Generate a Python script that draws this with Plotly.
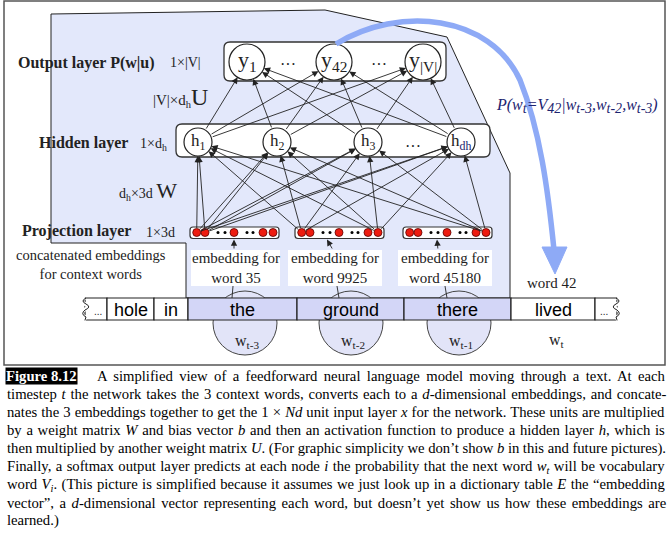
import re

import plotly.graph_objects as go

# ---- content -----------------------------------------------------------------
out_labels = ["y<sub>1</sub>", "y<sub>42</sub>", "y<sub>|V|</sub>"]
hid_labels = ["h<sub>1</sub>", "h<sub>2</sub>", "h<sub>3</sub>", "h<sub><span style='fill:#1c2470'>dh</span></sub>"]
emb_labels = ["embedding for<br>word 35", "embedding for<br>word 9925", "embedding for<br>word 45180"]
words = ["...", "hole", "in", "the", "ground", "there", "lived", "..."]
context_mask = [False, False, False, True, True, True, False, False]
ctx_labels = ["w<sub>t-3</sub>", "w<sub>t-2</sub>", "w<sub>t-1</sub>"]
proj_edges = [(0, 0), (0, 1), (1, 0), (1, 4), (2, 4)]  # (box, red dot) feeding every hidden unit

caption_lines = [
	"A simplified view of a feedforward neural language model moving through a text. At each",
	"timestep <i>t</i> the network takes the 3 context words, converts each to a <i>d</i>-dimensional embeddings, and concate-",
	"nates the 3 embeddings together to get the 1 × <i>Nd</i> unit input layer <i>x</i> for the network. These units are multiplied",
	"by a weight matrix <i>W</i> and bias vector <i>b</i> and then an activation function to produce a hidden layer <i>h</i>, which is",
	"then multiplied by another weight matrix <i>U</i>. (For graphic simplicity we don’t show <i>b</i> in this and future pictures).",
	"Finally, a softmax output layer predicts at each node <i>i</i> the probability that the next word <i>w<sub>t</sub></i> will be vocabulary",
	"word <i>V<sub>i</sub></i>. (This picture is simplified because it assumes we just look up in a dictionary table <i>E</i> the “embedding",
	"vector”, a <i>d</i>-dimensional vector representing each word, but doesn’t yet show us how these embeddings are",
	"learned.)",
]

# ---- layout geometry (pixel space of the page) --------------------------------
out_x, out_y, out_r = [247, 334, 423], 62, 18
hid_x, hid_y, hid_r = [198, 277, 368, 461], 142, 14
proj_left, proj_w, proj_y = [190, 295, 403], 89, 232.5
red_off = [6.7, 15, 44, 73, 83]
black_off = [28, 35, 57, 63]
emb_box = [(191, 280), (288, 382), (398, 492)]
emb_arrow = [(234, 234), (333, 327), (438, 437)]
emb_link = [(232, 233), (339, 337), (447, 445)]
cell_edges = [85, 107, 154, 188, 297, 404, 511, 595, 617]
row_top, row_bot = 298, 320
ctx_x, ctx_y, ctx_r = [245, 351, 459], 323, 32

SERIF = "Liberation Serif"
SANS = "Liberation Sans"
INK = "#222222"
PANEL = "#e3e8fb"
CELL = "#d3d6f7"
CIRC = "#e2e4f8"
BLUE = "#8eaaf6"
NAVY = "#1c2470"

TIMES = {' ': 250, '(': 333, ')': 333, ',': 250, '-': 333, '.': 250, '|': 200, '×': 564,
	'’': 333, '“': 444, '”': 444,
	'A': 722, 'B': 667, 'C': 667, 'D': 722, 'E': 611, 'F': 556, 'G': 722, 'H': 722, 'I': 333,
	'J': 389, 'K': 722, 'L': 611, 'M': 889, 'N': 722, 'O': 722, 'P': 556, 'Q': 722, 'R': 667,
	'S': 556, 'T': 611, 'U': 722, 'V': 722, 'W': 944, 'X': 722, 'Y': 722, 'Z': 611,
	'a': 444, 'b': 500, 'c': 444, 'd': 500, 'e': 444, 'f': 333, 'g': 500, 'h': 500, 'i': 278,
	'j': 278, 'k': 500, 'l': 278, 'm': 778, 'n': 500, 'o': 500, 'p': 500, 'q': 500, 'r': 333,
	's': 389, 't': 278, 'u': 500, 'v': 500, 'w': 722, 'x': 500, 'y': 500, 'z': 444}


def text_width(s, fs):
	total = 0
	for part in re.split(r'(<sub>.*?</sub>)', s):
		scale = 0.7 if part.startswith('<sub>') else 1
		plain = re.sub(r'<[^>]+>', '', part)
		total += sum(TIMES.get(c, 500) for c in plain) * scale
	return total * fs / 1000


def rrect(x0, y0, x1, y1, r):
	return (f"M{x0+r},{y0} L{x1-r},{y0} Q{x1},{y0} {x1},{y0+r} L{x1},{y1-r} Q{x1},{y1} {x1-r},{y1} "
		f"L{x0+r},{y1} Q{x0},{y1} {x0},{y1-r} L{x0},{y0+r} Q{x0},{y0} {x0+r},{y0} Z")


shapes = []
annots = []


def shape(**kw):
	kw.setdefault("layer", "below")
	kw.setdefault("xref", "x")
	kw.setdefault("yref", "y")
	shapes.append(kw)


def text(x, y, s, size=15, family=SERIF, color=INK, **kw):
	annots.append(dict(x=x, y=y, text=s, showarrow=False, font=dict(size=size, family=family, color=color), **kw))


def arrow(x0, y0, x1, y1, head_gap=0, tail_gap=0, width=0.9):
	annots.append(dict(x=x1, y=y1, ax=x0, ay=y0, axref="x", ayref="y", text="", showarrow=True,
		arrowhead=2, arrowsize=1.4, arrowwidth=width, arrowcolor=INK,
		standoff=head_gap, startstandoff=tail_gap))


# frame and shaded panel
shape(type="rect", x0=4, y0=1, x1=665, y1=365, line=dict(color="#555555", width=1.5))
shape(type="path", path="M51,14 L325,10 L447,37 L510,173 L510,298 L186,298 L186,243 L51,243 Z",
	fillcolor=PANEL, line=dict(color=INK, width=1))

# circles under the context words
for cx in ctx_x:
	shape(type="circle", x0=cx - ctx_r, x1=cx + ctx_r, y0=ctx_y - ctx_r, y1=ctx_y + ctx_r,
		fillcolor=CIRC, line=dict(color="#444444", width=1))

# embedding labels
for (l, r), (a, b), lab in zip(emb_box, emb_link, emb_labels):
	shape(type="rect", x0=l, x1=r, y0=250, y1=286, fillcolor="white", line=dict(width=0))
	shape(type="line", x0=a, y0=row_top, x1=b, y1=286, line=dict(color=INK, width=0.9))
	text((l + r) / 2, 268, lab, size=15)

# word row
for i, w in enumerate(words):
	x0, x1 = cell_edges[i], cell_edges[i + 1]
	shape(type="rect", x0=x0, x1=x1, y0=row_top, y1=row_bot,
		fillcolor=CELL if context_mask[i] else "white", line=dict(color=INK, width=1.2))
	if w == "...":
		text((x0 + x1) / 2 + (2 if i == 0 else -2), 311, "...", size=10, family=SANS)
	else:
		text((x0 + x1) / 2, 310, w, size=18, family=SANS, color="black")
shape(type="path", path="M85,298 Q78,301 85,304 Q91,307 84,310 Q78,314 85,317 L84,320",
	line=dict(color="white", width=4))
shape(type="path", path="M86,298 Q80,301 86,304 Q92,307 85,310 Q80,314 86,317 L85,320",
	line=dict(color=INK, width=1))
shape(type="path", path="M617,298 Q624,301 617,304 Q611,307 618,310 Q624,314 617,317 L618,320",
	line=dict(color="white", width=4))
shape(type="path", path="M616,298 Q622,301 616,304 Q610,307 617,310 Q622,314 616,317 L617,320",
	line=dict(color=INK, width=1))

for cx, lab in zip(ctx_x, ctx_labels):
	text(cx + 2, 341, lab, size=16)
text(557, 340, "w<sub>t</sub>", size=16)
text(552, 283, "word 42", size=15)

# layer boxes
shape(type="path", path=rrect(224, 42, 446, 81, 6), fillcolor="white", line=dict(color="#333333", width=1.3))
shape(type="path", path=rrect(176, 124, 490, 157, 6), fillcolor="white", line=dict(color="#333333", width=1.3))
for l in proj_left:
	shape(type="path", path=rrect(l, 227, l + proj_w, 238.5, 3), fillcolor="white",
		line=dict(color="#333333", width=1.2))

for x, lab in zip(out_x, out_labels):
	shape(type="circle", x0=x - out_r, x1=x + out_r, y0=out_y - out_r, y1=out_y + out_r,
		fillcolor="white", line=dict(color=INK, width=1.2))
	text(x, out_y - 1, lab, size=22)
for x, lab in zip(hid_x, hid_labels):
	shape(type="circle", x0=x - hid_r, x1=x + hid_r, y0=hid_y - hid_r, y1=hid_y + hid_r,
		fillcolor="white", line=dict(color=INK, width=1.2))
	text(x, hid_y, lab, size=17)
text(288, 64, "···", size=16)
text(379, 64, "···", size=16)
text(413, 146, "···", size=16)

# blue prediction arrow
shape(type="path", path="M336,44 C400,5 490,15 520,80 C540,130 548,190 554,250",
	line=dict(color=BLUE, width=5.5), layer="above")
shape(type="path", path="M542,247 L567,247 L555,274 Z", fillcolor=BLUE, line=dict(color=BLUE, width=1),
	layer="above")
sb = "<sub><span style='font-size:14px'>{}</span></sub>"
text(577, 106, "<i>P(w" + sb.format("t") + "=V" + sb.format("42") + "|w" + sb.format("t-3") + ",w"
	+ sb.format("t-2") + ",w" + sb.format("t-3") + ")</i>", size=16, color=NAVY)

# connections
for hx in hid_x:
	for ox in out_x:
		arrow(hx, hid_y, ox, out_y, head_gap=out_r, tail_gap=hid_r)
	for b, k in proj_edges:
		arrow(proj_left[b] + red_off[k], proj_y, hx, hid_y, head_gap=hid_r, tail_gap=3)
for (a, b) in emb_arrow:
	arrow(a, 250, b, 239.5)

# projection units
red_x, black_x = [], []
for l in proj_left:
	red_x += [l + o for o in red_off]
	black_x += [l + o for o in black_off]

# left-hand labels
text(86, 63, "<b>Output layer P(w|u)</b>", size=16)
text(185, 62, "1×|V|", size=14)
text(180, 97, "|V|×d<sub>h</sub><span style='font-size:24px'>U</span>", size=15)
text(83, 143, "<b>Hidden layer</b>", size=16)
text(153, 144, "1×d<sub>h</sub>", size=14)
text(148, 190, "d<sub>h</sub>×3d <span style='font-size:22px'>W</span>", size=14)
text(76, 231, "<b>Projection layer</b>", size=16)
text(160, 232, "1×3d", size=14)
text(91, 264, "concatenated embeddings<br>for context words", size=14.5)

# caption
CAP = 14.7
cap_y = [375.7, 394, 412.3, 430.3, 448.3, 466.7, 485, 502.7, 520.7]
annots.append(dict(x=5, y=375.7, text="<b>Figure 8.12</b>", showarrow=False, xanchor="left",
	bgcolor="black", borderpad=0, font=dict(size=CAP, family=SERIF, color="white")))
for i, (line, y) in enumerate(zip(caption_lines, cap_y)):
	x0 = 95 if i == 0 else 5
	if i < len(caption_lines) - 1:
		gaps = re.sub(r'<[^>]+>', '', line).count(' ')
		sp = (665 - x0 - text_width(line, CAP)) / max(gaps, 1)
		line = f'<span style="word-spacing:{sp:.2f}px">{line}</span>'
	annots.append(dict(x=x0, y=y, text=line, showarrow=False, xanchor="left",
		font=dict(size=CAP, family=SERIF, color="black")))

fig = go.Figure()
fig.add_trace(go.Scatter(x=red_x, y=[proj_y] * len(red_x), mode="markers", hoverinfo="skip",
	marker=dict(size=8, color="#ee1c10", line=dict(color="#5a0000", width=0.8))))
fig.add_trace(go.Scatter(x=black_x, y=[proj_y] * len(black_x), mode="markers", hoverinfo="skip",
	marker=dict(size=3, color="black")))

fig.update_layout(
	width=669, height=550,
	margin=dict(l=0, r=0, t=0, b=0, pad=0),
	paper_bgcolor="white", plot_bgcolor="white",
	showlegend=False,
	xaxis=dict(range=[0, 669], visible=False, fixedrange=True),
	yaxis=dict(range=[550, 0], visible=False, fixedrange=True),
	shapes=shapes, annotations=annots,
)

fig.write_html("out.html", config=dict(displayModeBar=False),
	post_script="document.body.style.margin='0';document.body.style.overflow='hidden';")
